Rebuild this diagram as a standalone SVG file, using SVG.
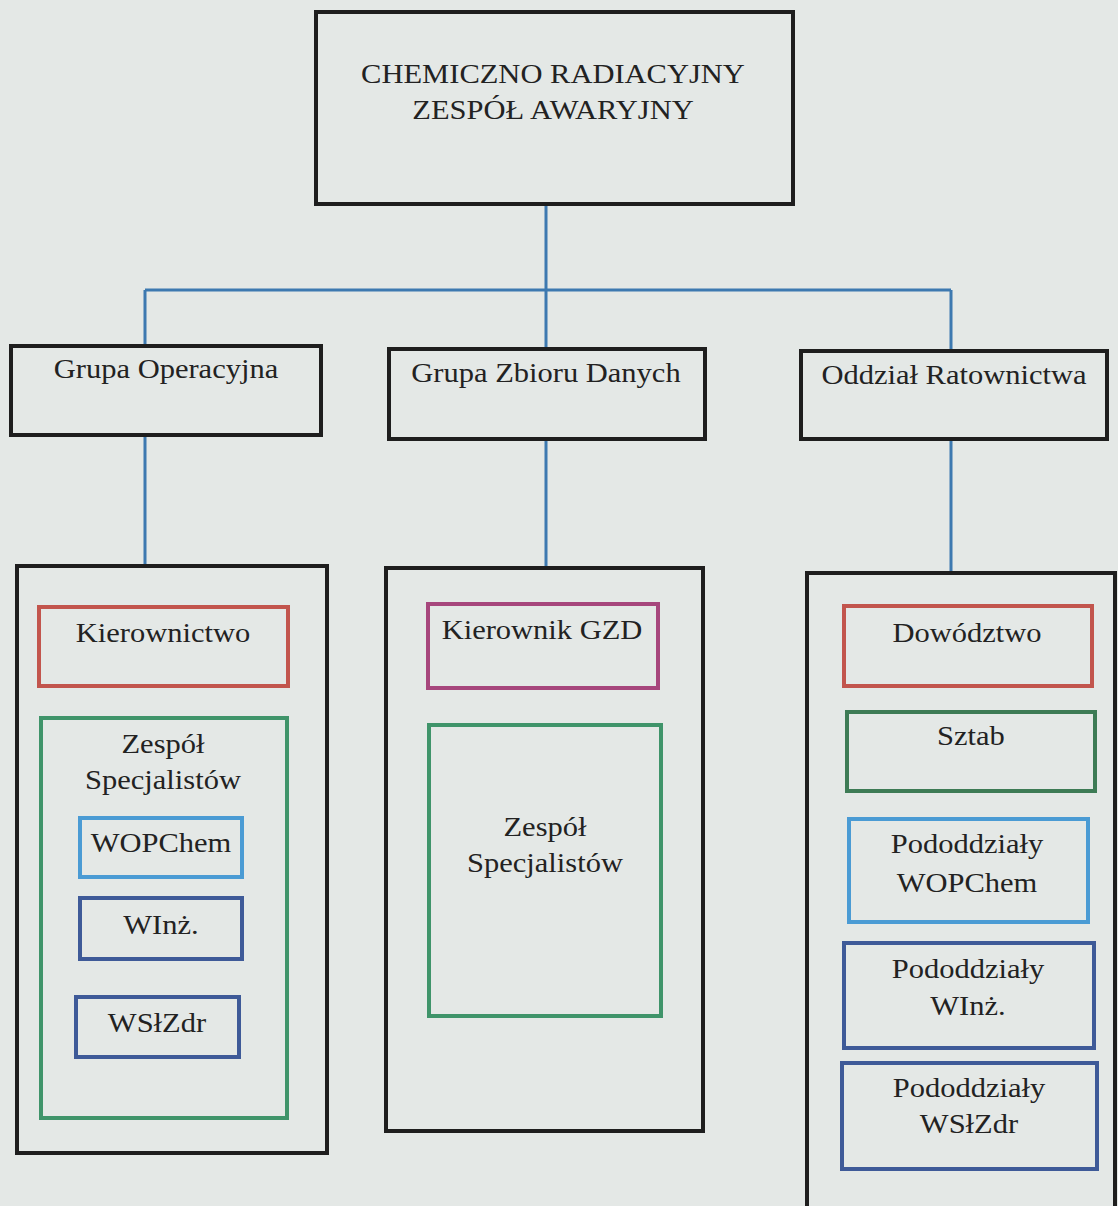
<svg xmlns="http://www.w3.org/2000/svg" width="1118" height="1206" viewBox="0 0 1118 1206">
<style>
.bg{fill:#e4e8e6}
.k{fill:none;stroke:#1e1e1e;stroke-width:4}
.red{fill:none;stroke:#c2554d;stroke-width:4}
.grn{fill:none;stroke:#3f946a;stroke-width:4}
.dgr{fill:none;stroke:#3d7b55;stroke-width:4}
.lbl{fill:none;stroke:#4a9bd4;stroke-width:4}
.dbl{fill:none;stroke:#3e5a98;stroke-width:4}
.mag{fill:none;stroke:#a6467c;stroke-width:4}
.con{fill:none;stroke:#3d79b0;stroke-width:3}
text{font-family:"Liberation Serif","Times New Roman",serif;font-size:28px;fill:#222;text-anchor:middle}
</style>
<rect class="bg" x="0" y="0" width="1118" height="1206"/>
<g id="connectors">
<path class="con" d="M546 205V290M145 290H951M145 290V345M546 290V348M951 290V350M145 436V565M546 440V567M951 440V572"/>
</g>
<g id="root">
<rect class="k" x="316" y="12" width="477" height="192"/>
<text transform="translate(553,83) scale(1.09,1)">CHEMICZNO RADIACYJNY</text>
<text transform="translate(553,119) scale(1.09,1)">ZESPÓŁ AWARYJNY</text>
</g>
<g id="grupa-operacyjna">
<rect class="k" x="11" y="346" width="310" height="89"/>
<text transform="translate(166,378) scale(1.09,1)">Grupa Operacyjna</text>
</g>
<g id="grupa-zbioru-danych">
<rect class="k" x="389" y="349" width="316" height="90"/>
<text transform="translate(546,382) scale(1.09,1)">Grupa Zbioru Danych</text>
</g>
<g id="oddzial-ratownictwa">
<rect class="k" x="801" y="351" width="306" height="88"/>
<text transform="translate(954,384) scale(1.09,1)">Oddział Ratownictwa</text>
</g>
<g id="left-panel">
<rect class="k" x="17" y="566" width="310" height="587"/>
</g>
<g id="kierownictwo">
<rect class="red" x="39" y="607" width="249" height="79"/>
<text transform="translate(163,642) scale(1.09,1)">Kierownictwo</text>
</g>
<g id="zespol-specjalistow-1">
<rect class="grn" x="41" y="718" width="246" height="400"/>
<text transform="translate(163,753) scale(1.09,1)">Zespół</text>
<text transform="translate(163,789) scale(1.09,1)">Specjalistów</text>
</g>
<g id="wopchem">
<rect class="lbl" x="80" y="818" width="162" height="59"/>
<text transform="translate(161,852) scale(1.09,1)">WOPChem</text>
</g>
<g id="winz">
<rect class="dbl" x="80" y="898" width="162" height="61"/>
<text transform="translate(161,934) scale(1.09,1)">WInż.</text>
</g>
<g id="wslzdr">
<rect class="dbl" x="76" y="997" width="163" height="60"/>
<text transform="translate(157,1032) scale(1.09,1)">WSłZdr</text>
</g>
<g id="middle-panel">
<rect class="k" x="386" y="568" width="317" height="563"/>
</g>
<g id="kierownik-gzd">
<rect class="mag" x="428" y="604" width="230" height="84"/>
<text transform="translate(542,639) scale(1.09,1)">Kierownik GZD</text>
</g>
<g id="zespol-specjalistow-2">
<rect class="grn" x="429" y="725" width="232" height="291"/>
<text transform="translate(545,836) scale(1.09,1)">Zespół</text>
<text transform="translate(545,872) scale(1.09,1)">Specjalistów</text>
</g>
<g id="right-panel">
<path class="k" d="M807 1206V573H1115V1206"/>
</g>
<g id="dowodztwo">
<rect class="red" x="844" y="606" width="248" height="80"/>
<text transform="translate(967,642) scale(1.09,1)">Dowództwo</text>
</g>
<g id="sztab">
<rect class="dgr" x="847" y="712" width="248" height="79"/>
<text transform="translate(971,745) scale(1.09,1)">Sztab</text>
</g>
<g id="pododdzialy-wopchem">
<rect class="lbl" x="849" y="819" width="239" height="103"/>
<text transform="translate(967,853) scale(1.09,1)">Pododdziały</text>
<text transform="translate(967,892) scale(1.09,1)">WOPChem</text>
</g>
<g id="pododdzialy-winz">
<rect class="dbl" x="844" y="943" width="250" height="105"/>
<text transform="translate(968,978) scale(1.09,1)">Pododdziały</text>
<text transform="translate(968,1015) scale(1.09,1)">WInż.</text>
</g>
<g id="pododdzialy-wslzdr">
<rect class="dbl" x="842" y="1063" width="255" height="106"/>
<text transform="translate(969,1097) scale(1.09,1)">Pododdziały</text>
<text transform="translate(969,1133) scale(1.09,1)">WSłZdr</text>
</g>
</svg>
